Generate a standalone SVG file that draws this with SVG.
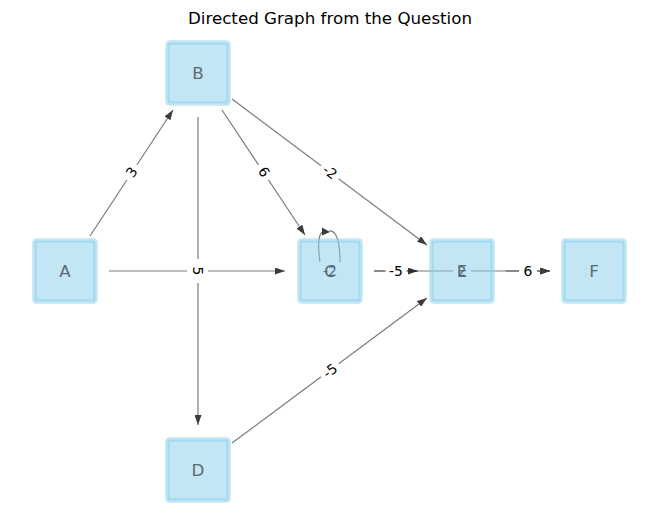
<svg xmlns="http://www.w3.org/2000/svg" width="660" height="522" viewBox="0 0 660 522">
<defs>
<marker id="ah" markerUnits="userSpaceOnUse" viewBox="0 0 10 7" markerWidth="10" markerHeight="7" refX="10" refY="3.5" orient="auto">
<path d="M0,0 L10,3.5 L0,7 z" fill="#3c3c3c"/>
</marker>
<style>
.e{stroke:#000;stroke-opacity:0.52;stroke-width:1.2;fill:none}
.a{marker-end:url(#ah)}
.lb{fill:#fff}
.lt{font-family:"DejaVu Sans",sans-serif;font-size:13.9px;fill:#000;text-anchor:middle}
.nb{fill:#87ceeb;fill-opacity:0.5;stroke:#87ceeb;stroke-opacity:0.5;stroke-width:4.5}
.nt{font-family:"DejaVu Sans",sans-serif;font-size:16.7px;fill:#5e6a71;text-anchor:middle}
</style>
</defs>
<rect width="660" height="522" fill="#fff"/>
<text x="330" y="24" font-family="DejaVu Sans, sans-serif" font-size="16.7px" text-anchor="middle" fill="#000">Directed Graph from the Question</text>

<g id="connectors">
<line class="e a" x1="90" y1="236" x2="173" y2="110"/>
<line class="e a" x1="109" y1="271" x2="285" y2="271"/>
<line class="e a" x1="198" y1="117" x2="198" y2="425"/>
<line class="e a" x1="222" y1="110" x2="305" y2="235"/>
<line class="e a" x1="232" y1="99" x2="427" y2="245"/>
<line class="e a" x1="232" y1="443" x2="427" y2="298"/>
<line class="e a" x1="374" y1="271" x2="418" y2="271"/>
<line class="e a" x1="374" y1="271" x2="550" y2="271"/>
<line class="e a" x1="506" y1="271" x2="550" y2="271"/>
<path class="e" d="M320,262 C318,248 318,236 322,232 M329,231 C336,230 340,240 340,262"/>
<path d="M330,232 L322,227.5 L322,235.5 z" fill="#3c3c3c"/>

<g transform="translate(131.5,172) rotate(-56.1)"><rect class="lb" x="-9" y="-8.5" width="18" height="17" rx="3"/><text class="lt" y="5">3</text></g>
<g transform="translate(264,172) rotate(56.3)"><rect class="lb" x="-9" y="-8.5" width="18" height="17" rx="3"/><text class="lt" y="5">6</text></g>
<g transform="translate(330,172) rotate(36.9)"><rect class="lb" x="-11" y="-8.5" width="22" height="17" rx="3"/><text class="lt" y="5">-2</text></g>
<rect class="lb" x="187" y="259" width="21" height="24" rx="3"/>
<g transform="translate(198,271) rotate(90)"><text class="lt" y="5">5</text></g>
<g transform="translate(330,370.5) rotate(-37)"><rect class="lb" x="-11" y="-8.5" width="22" height="17" rx="3"/><text class="lt" y="5">-5</text></g>
<g transform="translate(396,271)"><rect class="lb" x="-10.5" y="-8.5" width="21" height="17" rx="3"/><text class="lt" y="5">-5</text></g>
<g transform="translate(462,271)"><rect class="lb" x="-9" y="-8.5" width="18" height="17" rx="3"/><text class="lt" y="5">2</text></g>
<g transform="translate(528,271)"><rect class="lb" x="-9" y="-8.5" width="18" height="17" rx="3"/><text class="lt" y="5">6</text></g>
<g transform="translate(330,271)"><text class="lt" y="5">-2</text></g>
</g>

<g id="node-A"><rect class="nb" x="34.5" y="240.5" width="61" height="61" rx="2"/><text class="nt" x="65" y="277">A</text></g>
<g id="node-B"><rect class="nb" x="167.5" y="42.5" width="61" height="61" rx="2"/><text class="nt" x="198" y="79">B</text></g>
<g id="node-C"><rect class="nb" x="299.5" y="240.5" width="61" height="61" rx="2"/><text class="nt" x="330" y="277">C</text></g>
<g id="node-D"><rect class="nb" x="167.5" y="439.5" width="61" height="61" rx="2"/><text class="nt" x="198" y="476">D</text></g>
<g id="node-E"><rect class="nb" x="431.5" y="240.5" width="61" height="61" rx="2"/><text class="nt" x="462" y="277">E</text></g>
<g id="node-F"><rect class="nb" x="563.5" y="240.5" width="61" height="61" rx="2"/><text class="nt" x="594" y="277">F</text></g>
</svg>
